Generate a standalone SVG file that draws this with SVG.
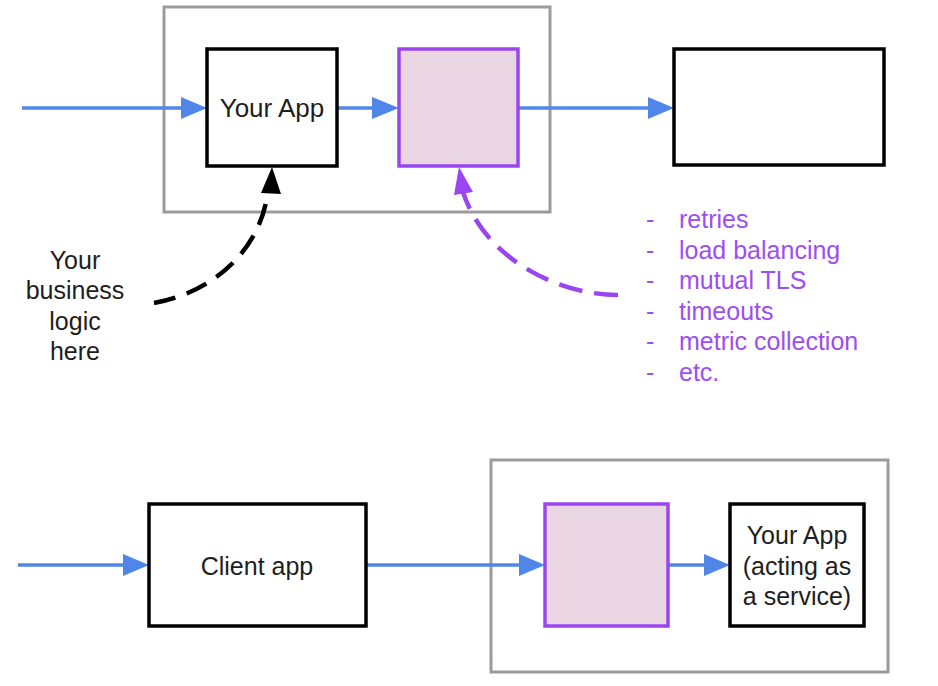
<svg xmlns="http://www.w3.org/2000/svg" width="938" height="686" viewBox="0 0 938 686">
<defs>
<style>
.cont{fill:#fff;stroke:#9c9a9f;stroke-width:3}
.box{fill:#fff;stroke:#000;stroke-width:3.5}
.proxy{fill:#ead6e2;stroke:#9b45f0;stroke-width:3.5}
.flow{stroke:#4f86e8;stroke-width:3.5;fill:none}
.t{font-family:"Liberation Sans",Arial,sans-serif;font-size:25px;fill:#1e1e1e;text-anchor:middle}
.p{font-family:"Liberation Sans",Arial,sans-serif;font-size:25px;fill:#9d4ef0}
</style>
</defs>
<rect width="938" height="686" fill="#fff"/>
<g id="container-top"><rect class="cont" x="164" y="7" width="386" height="205"/></g>
<g id="container-bottom"><rect class="cont" x="491" y="460" width="397" height="212"/></g>
<g id="connectors">
<line class="flow" x1="22" y1="108" x2="183" y2="108"/>
<path d="M181,97 L207,108 L181,119 z" fill="#4f86e8"/>
<line class="flow" x1="337" y1="108" x2="374" y2="108"/>
<path d="M372,97 L399,108 L372,119 z" fill="#4f86e8"/>
<line class="flow" x1="518" y1="108" x2="650" y2="108"/>
<path d="M648,97 L674,108 L648,119 z" fill="#4f86e8"/>
<line class="flow" x1="18" y1="565" x2="125" y2="565"/>
<path d="M123,554 L149,565 L123,576 z" fill="#4f86e8"/>
<line class="flow" x1="366" y1="565" x2="521" y2="565"/>
<path d="M519,554 L545,565 L519,576 z" fill="#4f86e8"/>
<line class="flow" x1="668" y1="565" x2="706" y2="565"/>
<path d="M704,554 L730,565 L704,576 z" fill="#4f86e8"/>
<path d="M154,303 C215,292 262,248 268,190" fill="none" stroke="#000" stroke-width="4.5" stroke-dasharray="22,12"/>
<path d="M261,193 L272,167 L281,194 z" fill="#000"/>
<path d="M618,295 C560,295 485,260 463,192" fill="none" stroke="#9b45f0" stroke-width="4.5" stroke-dasharray="24,12"/>
<path d="M454,195 L459,167 L473,192 z" fill="#9b45f0"/>
</g>
<g id="your-app"><rect class="box" x="207" y="49" width="130" height="117"/><text class="t" x="272" y="117" style="font-size:26px">Your App</text></g>
<g id="proxy-top"><rect class="proxy" x="399" y="49" width="119" height="117"/></g>
<g id="service-top"><rect class="box" x="674" y="49" width="210" height="116"/></g>
<g id="business-logic"><text class="t" x="75" y="269">Your</text><text class="t" x="75" y="299">business</text><text class="t" x="75" y="330">logic</text><text class="t" x="75" y="360">here</text></g>
<g id="features">
<text class="p" x="646" y="228">-</text><text class="p" x="679" y="228">retries</text>
<text class="p" x="646" y="259">-</text><text class="p" x="679" y="259">load balancing</text>
<text class="p" x="646" y="289">-</text><text class="p" x="679" y="289">mutual TLS</text>
<text class="p" x="646" y="320">-</text><text class="p" x="679" y="320">timeouts</text>
<text class="p" x="646" y="350">-</text><text class="p" x="679" y="350">metric collection</text>
<text class="p" x="646" y="381">-</text><text class="p" x="679" y="381">etc.</text>
</g>
<g id="client-app"><rect class="box" x="149" y="504" width="217" height="122"/><text class="t" x="257" y="575">Client app</text></g>
<g id="proxy-bottom"><rect class="proxy" x="545" y="504" width="123" height="122"/></g>
<g id="your-app-service"><rect class="box" x="730" y="504" width="134" height="122"/><text class="t" x="797" y="544">Your App</text><text class="t" x="797" y="575">(acting as</text><text class="t" x="797" y="605">a service)</text></g>
</svg>
